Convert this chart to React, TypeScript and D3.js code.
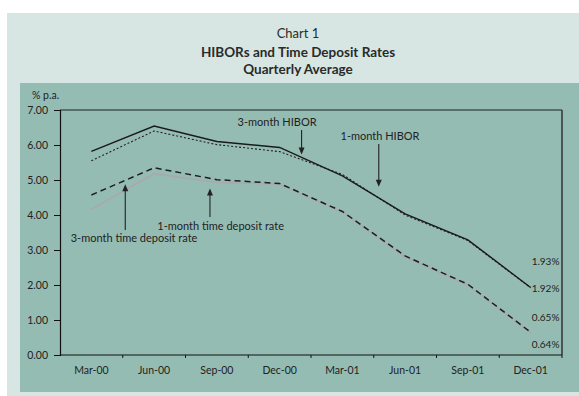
import React, { useRef, useEffect } from "react";
import * as d3 from "d3";

const QUARTERS = ["Mar-00", "Jun-00", "Sep-00", "Dec-00", "Mar-01", "Jun-01", "Sep-01", "Dec-01"];
const HIBOR_3M = [5.82, 6.54, 6.1, 5.93, 5.12, 4.03, 3.29, 1.93];
const HIBOR_1M = [5.55, 6.4, 6.01, 5.81, 5.16, 4.0, 3.27, 1.92];
const TD_3M = [4.57, 5.35, 5.01, 4.9, 4.1, 2.83, 2.02, 0.65];
const TD_1M = [4.16, 5.18, 4.93, 4.88, 4.08, 2.8, 2.0, 0.64];
const Y_TICKS = [0, 1, 2, 3, 4, 5, 6, 7];
const END_LABELS = ["1.93%", "1.92%", "0.65%", "0.64%"];
const END_LABEL_Y = [2.67, 1.91, 1.08, 0.29];

// annotation: text at (tx, ty), arrow from (ax, ay0) to (ax, ay1), in category index / value units
const NOTES = [
  { text: "3-month HIBOR", tx: 2.96, ty: 6.55, ax: 3.35, ay0: 6.43, ay1: 5.73 },
  { text: "1-month HIBOR", tx: 4.6, ty: 6.14, ax: 4.58, ay0: 6.03, ay1: 4.81 },
  { text: "1-month time deposit rate", tx: 2.06, ty: 3.57, ax: 1.89, ay0: 3.94, ay1: 4.76 },
  { text: "3-month time deposit rate", tx: 0.68, ty: 3.24, ax: 0.54, ay0: 3.57, ay1: 4.88 },
];

const FONT = "Lato, 'Open Sans', sans-serif";

export default function App() {
  const svgRef = useRef<SVGSVGElement>(null);
  const width = 579;
  const height = 396;

  useEffect(() => {
    if (!svgRef.current) return;
    const svg = d3.select(svgRef.current);
    svg.selectAll("*").remove();

    // backgrounds
    svg.append("rect").attr("x", 7).attr("y", 13).attr("width", width - 7).attr("height", height - 13).attr("fill", "#d7e6e2");
    svg.append("rect").attr("x", 20).attr("y", 83).attr("width", width - 20).attr("height", 309).attr("fill", "#95bcb2");

    // titles
    const titles = [
      { t: "Chart 1", y: 37.5, w: "normal", s: "13px" },
      { t: "HIBORs and Time Deposit Rates", y: 57, w: "bold", s: "13.5px" },
      { t: "Quarterly Average", y: 73.5, w: "bold", s: "13.5px" },
    ];
    titles.forEach((d) => {
      svg.append("text")
        .attr("x", 298)
        .attr("y", d.y)
        .attr("text-anchor", "middle")
        .style("font-family", FONT)
        .style("font-size", d.s)
        .style("font-weight", d.w)
        .style("fill", "#2a2a2a")
        .text(d.t);
    });

    const left = 60, right = 562, top = 110, bottom = 355;
    const x = d3.scaleBand<string>().domain(QUARTERS).range([left, right]).padding(0);
    const xi = d3.scaleLinear().domain([-0.5, QUARTERS.length - 0.5]).range([left, right]);
    const y = d3.scaleLinear().domain([0, 7]).range([bottom, top]);

    // frame
    svg.append("line").attr("x1", left).attr("x2", right).attr("y1", top).attr("y2", top).attr("stroke", "#222").attr("stroke-width", 1.2);
    svg.append("line").attr("x1", right).attr("x2", right).attr("y1", top).attr("y2", bottom).attr("stroke", "#333").attr("stroke-width", 1.5);

    // y axis
    const yAxis = d3.axisLeft(y).tickValues(Y_TICKS).tickSize(6).tickFormat((d) => d3.format(".2f")(d as number));
    const yg = svg.append("g").attr("transform", `translate(${left},0)`).call(yAxis);
    yg.select(".domain").attr("stroke", "#111").attr("stroke-width", 1.2);
    yg.selectAll(".tick line").attr("stroke", "#111");
    yg.selectAll(".tick text").attr("x", -12).style("font-family", FONT).style("font-size", "10.5px").style("fill", "#222");

    svg.append("text").attr("x", 32).attr("y", 99).style("font-family", FONT).style("font-size", "10.5px").style("fill", "#222").text("% p.a.");

    // x axis (ticks at band edges)
    const xg = svg.append("g").attr("transform", `translate(0,${bottom})`);
    xg.append("line").attr("x1", left).attr("x2", right).attr("stroke", "#111").attr("stroke-width", 1.2);
    QUARTERS.forEach((q, i) => {
      const x0 = x(q)!;
      if (i > 0) xg.append("line").attr("x1", x0).attr("x2", x0).attr("y1", 0).attr("y2", 3).attr("stroke", "#111");
      xg.append("text")
        .attr("x", x0 + x.bandwidth() / 2)
        .attr("y", 19)
        .attr("text-anchor", "middle")
        .style("font-family", FONT)
        .style("font-size", "10.5px")
        .style("fill", "#222")
        .text(q);
    });
    xg.append("line").attr("x1", right).attr("x2", right).attr("y1", 0).attr("y2", 3).attr("stroke", "#111");

    // series
    const line = d3.line<number>()
      .x((_, i) => x(QUARTERS[i])! + x.bandwidth() / 2)
      .y((d) => y(d));

    const series = [
      { data: TD_1M, stroke: "#a9a9a9", w: 1.6, dash: null },
      { data: TD_3M, stroke: "#1e1e1e", w: 1.5, dash: "6,4" },
      { data: HIBOR_1M, stroke: "#222", w: 1.1, dash: "2,2" },
      { data: HIBOR_3M, stroke: "#1a1a1a", w: 1.4, dash: null },
    ];
    series.forEach((s) => {
      svg.append("path")
        .datum(s.data)
        .attr("d", line)
        .attr("fill", "none")
        .attr("stroke", s.stroke)
        .attr("stroke-width", s.w)
        .attr("stroke-dasharray", s.dash);
    });

    // end labels
    END_LABELS.forEach((t, i) => {
      svg.append("text")
        .attr("x", xi(QUARTERS.length - 1) + 1)
        .attr("y", y(END_LABEL_Y[i]))
        .attr("dy", "0.35em")
        .style("font-family", FONT)
        .style("font-size", "10px")
        .style("fill", "#222")
        .text(t);
    });

    // annotations
    NOTES.forEach((n) => {
      svg.append("text")
        .attr("x", xi(n.tx))
        .attr("y", y(n.ty))
        .attr("text-anchor", "middle")
        .style("font-family", FONT)
        .style("font-size", "11px")
        .style("fill", "#222")
        .text(n.text);
      const ax = xi(n.ax);
      const y0 = y(n.ay0);
      const y1 = y(n.ay1);
      const dir = y1 > y0 ? 1 : -1;
      svg.append("line")
        .attr("x1", ax).attr("x2", ax)
        .attr("y1", y0).attr("y2", y1 - dir * 6)
        .attr("stroke", "#222").attr("stroke-width", 1.1);
      svg.append("path")
        .attr("d", `M${ax - 3},${y1 - dir * 7}L${ax + 3},${y1 - dir * 7}L${ax},${y1}Z`)
        .attr("fill", "#222");
    });
  }, []);

  return (
    <svg
      ref={svgRef}
      width={width}
      height={height}
      style={{ position: "absolute", left: 0, top: 0, display: "block" }}
      viewBox={`0 0 ${width} ${height}`}
    />
  );
}
